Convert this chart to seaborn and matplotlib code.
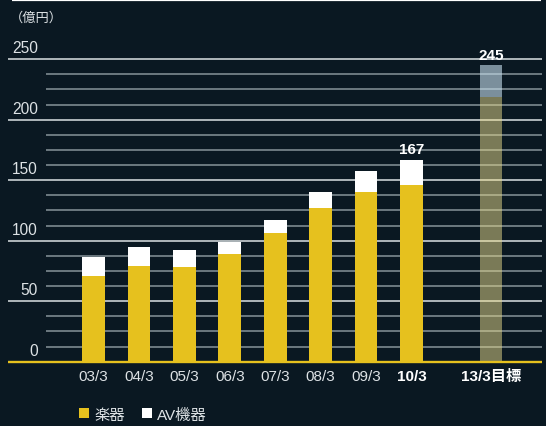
import numpy as np
import pandas as pd
import matplotlib
matplotlib.use('Agg')
import matplotlib.pyplot as plt
import seaborn as sns
from matplotlib.patches import Patch

# ---- data ----
periods = ['03/3', '04/3', '05/3', '06/3', '07/3', '08/3', '09/3', '10/3', '13/3目標']
positions = [0, 1, 2, 3, 4, 5, 6, 7, 8.75]
instruments = [70.6, 78.8, 78.0, 88.7, 106.0, 127.4, 140.6, 146.4, 219.0]
av_equipment = [15.6, 15.7, 14.0, 9.9, 11.5, 13.2, 17.3, 20.6, 26.0]
bold_periods = ['10/3', '13/3目標']
value_labels = {'10/3': '167', '13/3目標': '245'}
y_ticks = [0, 50, 100, 150, 200, 250]
y_minor = [12.5, 25, 37.5, 62.5, 75, 87.5, 112.5, 125, 137.5, 162.5, 175, 187.5,
           212.5, 225, 237.5]
unit_label = '（億円）'
legend_labels = ['楽器', 'AV機器']

BG = '#0a1822'
YEL = '#e6c11e'
MAJOR = '#c3cacd'
MINOR = '#87939a'
TXT = '#dde2e5'

sns.set_style('dark')
plt.rcParams['font.family'] = ['Liberation Sans', 'Noto Sans CJK JP']

df = pd.DataFrame({'period': periods, 'pos': positions,
                   'inst': instruments, 'av': av_equipment})
df['total'] = df['inst'] + df['av']

fig = plt.figure(figsize=(5.46, 4.27), dpi=100, facecolor=BG)
ax = fig.add_axes([0, 0, 1, 1])
ax.set_facecolor(BG)

# grid lines
ytr = ax.get_yaxis_transform()
for v in y_minor:
    ax.plot([46 / 546, 542 / 546], [v, v], transform=ytr, color=MINOR, lw=1.1, zorder=0.5,
            solid_capstyle='butt')
for v in y_ticks[1:]:
    ax.plot([8 / 546, 542 / 546], [v, v], transform=ytr, color=MAJOR, lw=1.25, zorder=0.6,
            solid_capstyle='butt')

# bars
sns.barplot(data=df, x='pos', y='total', native_scale=True, width=0.5, color='white',
            saturation=1, errorbar=None, ax=ax, zorder=2, linewidth=0)
sns.barplot(data=df, x='pos', y='inst', native_scale=True, width=0.5, color=YEL,
            saturation=1, errorbar=None, ax=ax, zorder=2, linewidth=0)

n = len(df)
tot_patches = ax.patches[:n]
inst_patches = ax.patches[n:2 * n]
# target bar: translucent, stacked
tp = tot_patches[-1]
tp.set_y(df['inst'].iloc[-1])
tp.set_height(df['av'].iloc[-1])
tp.set_facecolor('#c8e0ee')
tp.set_alpha(0.6)
ip = inst_patches[-1]
ip.set_facecolor('#eadc8c')
ip.set_alpha(0.5)

# baseline
ax.plot([8 / 546, 542 / 546], [0, 0], transform=ytr, color=YEL, lw=1.7, zorder=3,
        solid_capstyle='butt')
# top rule
ax.plot([12 / 546, 541 / 546], [298.9, 298.9], transform=ytr, color='white', lw=1.6,
        zorder=3, solid_capstyle='butt')

ax.set_xlim(-2.058, 9.960)
ax.set_ylim(-53.14, 299.75)
ax.axis('off')

# y labels (sit above their lines)
for v in y_ticks:
    ax.text(38 / 546, v + 5.6, str(v), transform=ytr, ha='right', va='baseline',
            fontsize=11.2, color=TXT)

# x labels
for p, lab in zip(df['pos'], df['period']):
    bold = lab in bold_periods
    ax.text(p, -15.4, lab, ha='center', va='baseline', fontsize=11,
            fontweight='bold' if bold else 'normal', color='white' if bold else TXT)

# value labels
for p, lab, t in zip(df['pos'], df['period'], df['total']):
    if lab in value_labels:
        ax.text(p, t + 5.3, value_labels[lab], ha='center', va='baseline', fontsize=11,
                fontweight='bold', color='white')

# unit label
fig.text(10 / 546, 1 - 18 / 427, unit_label, ha='left', va='center', fontsize=9.5, color=TXT)

# legend
handles = [Patch(facecolor=YEL, edgecolor='none'), Patch(facecolor='white', edgecolor='none')]
fig.legend(handles, legend_labels, loc='center left', bbox_to_anchor=(79 / 546, 1 - 415.5 / 427),
           ncol=2, frameon=False, fontsize=11, handlelength=0.65, handleheight=0.65,
           handletextpad=0.35, columnspacing=1.1, borderpad=0, borderaxespad=0,
           labelcolor=TXT)

fig.savefig('out.png', dpi=100, facecolor=BG)
